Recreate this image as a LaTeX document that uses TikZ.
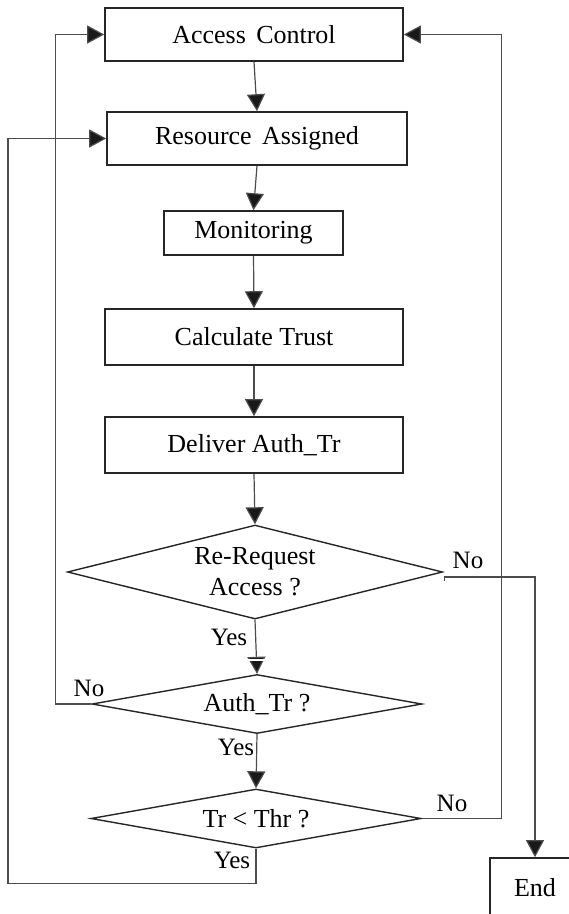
\documentclass[tikz,border=0pt]{standalone}
\usepackage{fontspec}
\setmainfont{Liberation Serif}
\usetikzlibrary{arrows.meta,shapes.geometric}

\begin{document}
\begin{tikzpicture}[x=1pt,y=-1pt,
  box/.style={draw=black!85, line width=1.6pt, fill=white, inner sep=0pt,
    text=black, font=\fontsize{26}{30}\selectfont},
  dec/.style={shape=diamond, draw=black!85, line width=1.4pt, inner sep=0pt,
    align=center, text=black, font=\fontsize{26}{31}\selectfont},
  flow/.style={draw=black!70, line width=1.2pt,
    -{Triangle[length=17pt,width=18pt,fill=black!90]}},
  lbl/.style={inner sep=0pt, text=black, font=\fontsize{25}{29}\selectfont}]

\useasboundingbox (0,0) rectangle (569,914);
\clip (0,0) rectangle (569,914);

% process steps
\node[box, minimum width=298pt, minimum height=53pt] (ac)  at (254,34.5) {Access\hspace{0.4em}Control};
\node[box, minimum width=300pt, minimum height=53pt] (ra)  at (257,138.5) {Resource\hspace{0.4em}Assigned};
\node[box, minimum width=179pt, minimum height=44pt] (mon) at (253.5,233) {Monitoring};
\node[box, minimum width=298pt, minimum height=56pt] (ct)  at (254,337) {Calculate Trust};
\node[box, minimum width=298pt, minimum height=56pt] (dat) at (254,445) {Deliver Auth\_Tr};

% decisions
\node[dec, aspect=4,   minimum width=375pt, minimum height=94pt] (rr)   at (255,572) {Re-Request\\Access ?};
\node[dec, aspect=5.6, minimum width=330pt, minimum height=59pt] (auth) at (257,704) {Auth\_Tr ?};
\node[dec, aspect=5.6, minimum width=330pt, minimum height=59pt] (thr)  at (256,818.5) {Tr < Thr ?};

% terminal
\node[box, minimum width=90pt, minimum height=60pt] (end) at (535,888) {End};

% branch labels
\node[lbl] (rrno)    at (468,560) {No};
\node[lbl] (rryes)   at (229,637) {Yes};
\node[lbl] (authno)  at (89,688)  {No};
\node[lbl] (authyes) at (236,747) {Yes};
\node[lbl] (thrno)   at (452,803) {No};
\node[lbl] (thryes)  at (232,860) {Yes};

% main sequence
\draw[flow] (ac.south)  -- (ra.north);
\draw[flow] (ra.south)  -- (mon.north);
\draw[flow] (mon.south) -- (ct.north);
\draw[flow] (ct.south)  -- (dat.north);
\draw[flow] (dat.south) -- (rr.north);
\draw[flow] (rr.south)  -- (auth.north);
\draw[white, line width=1.4pt] ([xshift=-11pt,yshift=14pt]auth.north) -- ([xshift=11pt,yshift=14pt]auth.north);
\draw[flow] (auth.south) -- (thr.north);

% loops back and exit
\draw[flow] ([xshift=1pt,yshift=-9pt]rr.east) -- ++(0,-4) -| (end.north);
\draw[flow] (auth.west) -- ++(-36,0) |- (ac.west);
\draw[flow] (thr.east) -- ++(80,0) |- (ac.east);
\draw[flow] (thr.south) -- ++(0,35) -- ++(-248,0) |- (ra.west);
\end{tikzpicture}
\end{document}
